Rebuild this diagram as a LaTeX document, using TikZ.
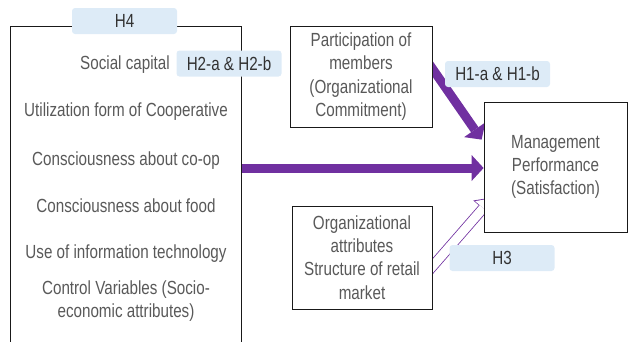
\documentclass[tikz,border=0pt]{standalone}
\usepackage{fontspec}
\setmainfont{Liberation Sans}[FakeStretch=0.8]
\usetikzlibrary{arrows.meta,calc,backgrounds}
\definecolor{hypblue}{RGB}{221,235,247}
\definecolor{arrowpurple}{RGB}{112,48,160}
\definecolor{textgray}{RGB}{89,89,89}
\definecolor{labelgray}{RGB}{50,50,50}
\newcommand{\diagfont}{\fontsize{19}{23.3}\selectfont}

\tikzset{
  item/.style={text=textgray, align=center, font=\diagfont, inner sep=0pt},
  varbox/.style={draw=black!90, line width=0.8pt, fill=white, text=textgray,
    align=center, font=\diagfont, inner sep=0pt},
  hyp/.style={fill=hypblue, rounded corners=3pt, text=labelgray, font=\diagfont,
    minimum width=105pt, minimum height=26pt, inner sep=0pt},
  bigarrow/.style={arrowpurple, line width=9pt,
    -{Triangle[length=12pt,width=26pt,line width=0pt]}},
  hollowout/.style={arrowpurple, line width=10.6pt,
    -{Triangle[length=15pt,width=25pt,line width=0pt]}},
  hollowin/.style={white, line width=9pt, shorten >=1.3pt,
    -{Triangle[length=13pt,width=21.5pt,line width=0pt]}}
}

\begin{document}
\begin{tikzpicture}[x=1pt,y=-1pt]
    \useasboundingbox (0,0) rectangle (629,341);

    % left block of variables
    \draw[black!90, line width=0.8pt] (10,345) -- (10,26) -- (241,26) -- (241,345);
    \coordinate (leftedge) at (241,168);
    \node[item] (social) at (125,65) {Social capital};
    \node[item] (util) at (126,112) {Utilization form of Cooperative};
    \node[item] (coop) at (126,161) {Consciousness about co-op};
    \node[item] (food) at (126,206) {Consciousness about food};
    \node[item] (itech) at (126,254) {Use of information technology};
    \node[item] (control) at (126,301) {Control Variables (Socio-\\economic attributes)};

    % boxes
    \node[varbox, minimum width=142pt, minimum height=101pt] (part) at (361,76.5)
        {Participation of\\members\\(Organizational\\Commitment)};
    \node[varbox, minimum width=143pt, minimum height=130pt] (mgmt) at (555.5,167)
        {Management\\Performance\\(Satisfaction)};
    \node[varbox, minimum width=140pt, minimum height=103pt] (org) at (362,257.5)
        {Organizational\\attributes\\Structure of retail\\market};

    % arrows
    \begin{scope}[on background layer]
        \draw[bigarrow] (leftedge) -- (mgmt.west |- leftedge);
        \draw[bigarrow] ($(part.east)+(-7,-18)$) -- ($(mgmt.north west)+(-2,38)$);
        \draw[hollowout] ($(org.east)+(-7,17)$) -- ($(mgmt.south west)+(9,-35)$);
        \draw[hollowin] ($(org.east)+(-7,17)$) -- ($(mgmt.south west)+(9,-35)$);
    \end{scope}

    % hypothesis labels
    \node[hyp] (h4) at (124.5,21) {H4};
    \node[hyp] (h2) at (229,63.5) {H2-a \& H2-b};
    \node[hyp] (h1) at (497.5,74) {H1-a \& H1-b};
    \node[hyp] (h3) at (502,258) {H3};
\end{tikzpicture}
\end{document}
